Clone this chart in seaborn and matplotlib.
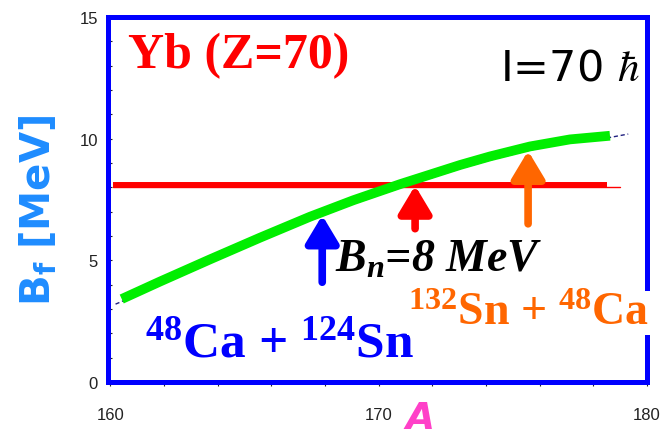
import numpy as np
import pandas as pd
import matplotlib
matplotlib.use("Agg")
import matplotlib.pyplot as plt
import seaborn as sns

# ---- data ----
mass_A = [160.43, 161.86, 163.72, 165.58, 167.44, 169.06, 170.80, 173.04, 174.15, 175.64, 177.13, 178.62]
barrier_B = [3.41, 4.13, 5.04, 5.93, 6.79, 7.47, 8.13, 8.92, 9.27, 9.68, 9.97, 10.12]
ldm_A = [160.2, 161.86, 163.72, 165.58, 167.44, 169.06, 170.8, 173.04, 174.15, 175.64, 177.13, 178.62, 179.3]
ldm_B = [3.2, 3.98, 4.89, 5.78, 6.64, 7.32, 7.98, 8.77, 9.12, 9.53, 9.84, 10.05, 10.19]
neutron_B = 8.1
neutron_A_range = [160.1, 178.5]
neutron_thin_range = [160.1, 179.0]
neutron_thin_B = 8.0
arrow_A = [167.9, 171.36, 175.57]
arrow_from = [4.1, 6.3, 6.5]
arrow_to = [6.85, 8.07, 9.5]
arrow_colors = ["#0000ff", "#ff0000", "#ff6600"]
xticks_major = [160, 170, 180]
yticks_major = [0, 5, 10, 15]

sns.set_theme(style="white")
plt.rcParams["font.family"] = ["Liberation Sans", "DejaVu Sans"]
plt.rcParams["mathtext.fontset"] = "custom"
plt.rcParams["mathtext.rm"] = "Liberation Serif:bold"
plt.rcParams["mathtext.it"] = "Liberation Serif:italic:bold"
plt.rcParams["mathtext.bf"] = "Liberation Serif:bold"

fig = plt.figure(figsize=(6.62, 4.39), dpi=100)
ax = fig.add_axes([107.5 / 662, (439 - 383) / 439, 539.5 / 662, 365 / 439])

# dashed thin theory line under the curve
ax.plot(ldm_A, ldm_B, color="#202080", lw=1.0, ls=(0, (3, 2)), zorder=2)

# Bn line
ax.plot(neutron_thin_range, [neutron_thin_B] * 2, color="#ff0000", lw=1.0, zorder=2)
ax.plot(neutron_A_range, [neutron_B] * 2, color="#ff0000", lw=4.3, zorder=2.1, solid_capstyle="butt")

# fission barrier curve
df = pd.DataFrame({"A": mass_A, "Bf": barrier_B})
sns.lineplot(data=df, x="A", y="Bf", ax=ax, color="#00ee00", lw=7, zorder=2.2,
             sort=True, estimator=None)
ax.lines[-1].set_solid_capstyle("butt")
ax.lines[-1].set_solid_joinstyle("round")

# arrows
for a, b0, b1, c in zip(arrow_A, arrow_from, arrow_to, arrow_colors):
    ax.annotate("", xy=(a, b1), xytext=(a, b0),
                arrowprops=dict(arrowstyle="-|>,head_length=0.75,head_width=0.45",
                                lw=5.5, color=c, shrinkA=0, shrinkB=0,
                                mutation_scale=22),
                zorder=2.3)

ax.set_xlim(159.9, 180.0)
ax.set_ylim(0, 15)

for s in ax.spines.values():
    s.set_color("#0000ff")
    s.set_linewidth(3.6)

ax.set_xticks(xticks_major)
ax.set_xticks(np.arange(160, 181, 2), minor=True)
ax.set_yticks(yticks_major)
ax.set_yticks(np.arange(0, 16, 1), minor=True)
ax.tick_params(axis="x", which="both", direction="out", length=3, width=0.8,
               color="#222222", bottom=True, labelsize=12, pad=15, labelcolor="#222222")
ax.tick_params(axis="y", which="both", direction="in", length=3, width=0.8,
               color="#222222", left=True, labelsize=12, pad=7, labelcolor="#222222")
ax.set_xticklabels([str(v) for v in xticks_major])
ax.set_yticklabels([str(v) for v in yticks_major])

ax.set_xlabel("A", color="#ff40c8", fontsize=27, fontweight="bold", fontstyle="italic",
              family="DejaVu Sans", va="baseline")
ax.xaxis.set_label_coords(0.579, (383 - 429) / 365)
ax.set_ylabel(r"$\mathbf{B_f\ [MeV]}$", color="#1e8cff", fontsize=29,
              math_fontfamily="dejavusans", va="center")
ax.yaxis.set_label_coords(-0.129, 0.474)

ax.text(0.038, 0.863, "Yb (Z=70)", transform=ax.transAxes, color="#ff0000",
        family="Liberation Serif", fontweight="bold", fontsize=36, va="baseline")
ax.text(0.7275, 0.830, r"I=70 $\hbar$", transform=ax.transAxes, color="black",
        family="DejaVu Sans", fontsize=31, va="baseline", math_fontfamily="stix")
ax.text((335 - 107.5) / 539.5, (383 - 272) / 365, r"$B_n$=8 MeV", transform=ax.transAxes,
        color="black", family="Liberation Serif", fontweight="bold", fontstyle="italic",
        fontsize=33, va="baseline")
ax.text((145 - 107.5) / 539.5, (383 - 357) / 365, r"$^{48}$Ca + $^{124}$Sn", transform=ax.transAxes,
        color="#0000ff", family="Liberation Serif", fontweight="bold", fontsize=37, va="baseline")
ax.text((408 - 107.5) / 539.5, (383 - 325) / 365, r"$^{132}$Sn + $^{48}$Ca", transform=ax.transAxes,
        color="#ff6600", family="Liberation Serif", fontweight="bold", fontsize=33, va="baseline",
        bbox=dict(facecolor="white", edgecolor="none", pad=1), zorder=5)

fig.savefig("out.png", dpi=100)
